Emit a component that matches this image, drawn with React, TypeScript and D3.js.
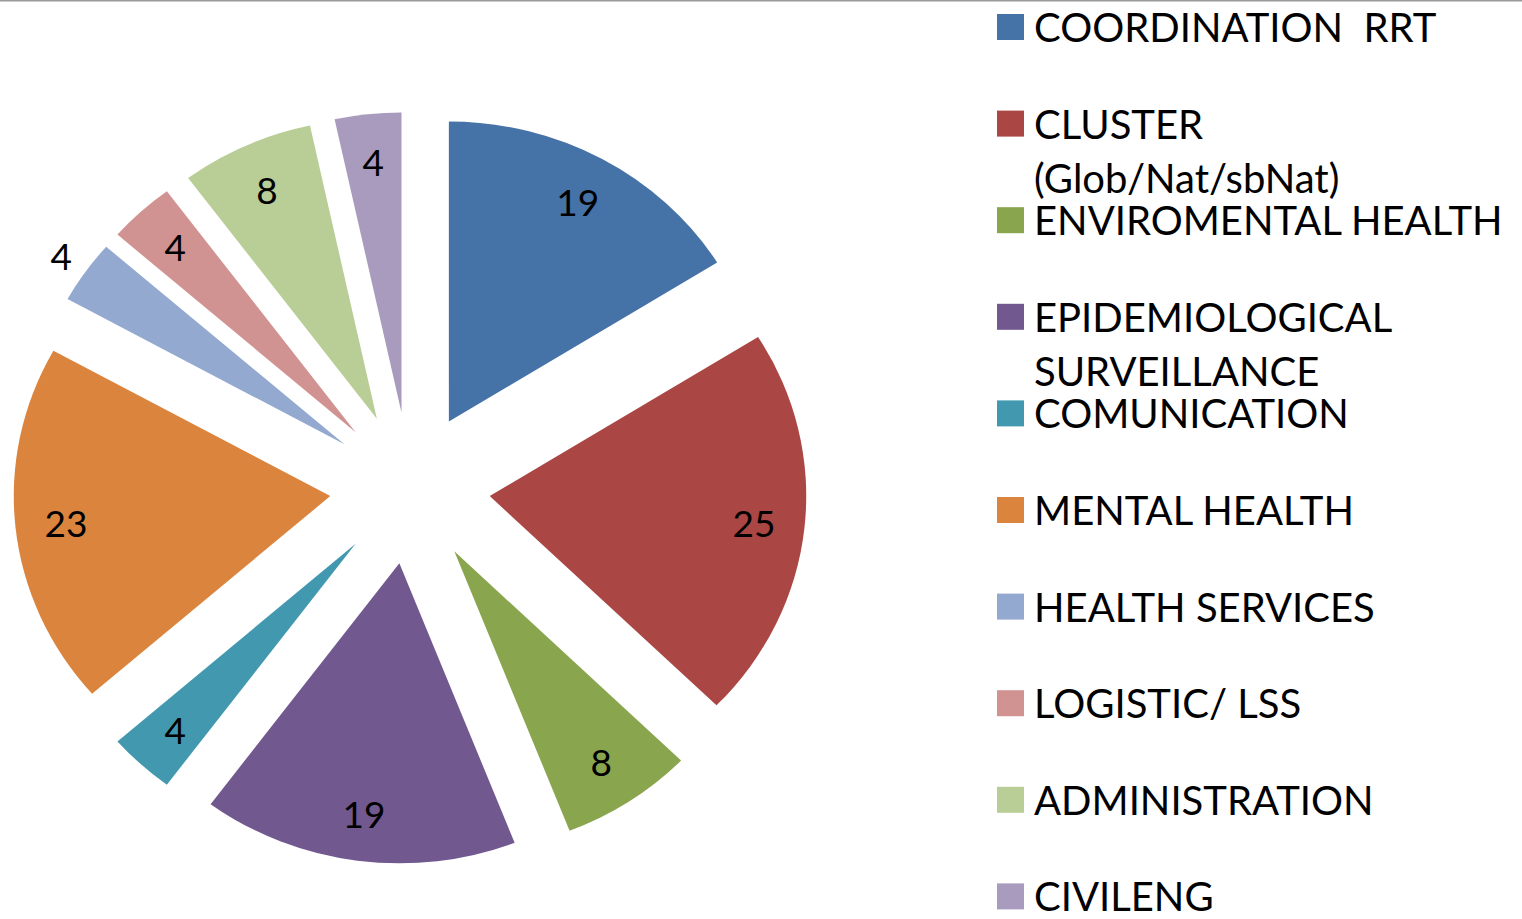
import React from "react";
import * as d3 from "d3";

const categories = [
  "COORDINATION  RRT",
  "CLUSTER (Glob/Nat/sbNat)",
  "ENVIROMENTAL HEALTH",
  "EPIDEMIOLOGICAL SURVEILLANCE",
  "COMUNICATION",
  "MENTAL HEALTH",
  "HEALTH SERVICES",
  "LOGISTIC/ LSS",
  "ADMINISTRATION",
  "CIVILENG",
];
const legendLines = [
  ["COORDINATION  RRT"],
  ["CLUSTER", "(Glob/Nat/sbNat)"],
  ["ENVIROMENTAL HEALTH"],
  ["EPIDEMIOLOGICAL", "SURVEILLANCE"],
  ["COMUNICATION"],
  ["MENTAL HEALTH"],
  ["HEALTH SERVICES"],
  ["LOGISTIC/ LSS"],
  ["ADMINISTRATION"],
  ["CIVILENG"],
];
const values = [19, 25, 8, 19, 4, 23, 4, 4, 8, 4];
const colors = [
  "#4572A7", "#AA4643", "#89A54E", "#71588F", "#4198AF",
  "#DB843D", "#93A9CF", "#D19392", "#B9CD96", "#A99BBD",
];

const W = 1522;
const H = 919;
const cx = 410;
const cy = 488;
const sx = 1.055; // pie is slightly stretched horizontally
const radius = 300;
const explode = 76;
const labelR = 252;
const outsideLabelR = 328;

export default function App() {
  const pie = d3.pie<number>().sort(null).value((d) => d)(values);
  const arc = d3.arc<d3.PieArcDatum<number>>().innerRadius(0).outerRadius(radius);

  const font = "Lato, 'Open Sans', sans-serif";

  return (
    <svg width={W} height={H} style={{ display: "block", position: "absolute", left: 0, top: 0, background: "#fff" }}>
      <line x1={0} x2={W} y1={0.5} y2={0.5} stroke="#999" strokeWidth={2} />
      <g transform={`translate(${cx},${cy}) scale(${sx},1)`}>
        {pie.map((p, i) => {
          const mid = (p.startAngle + p.endAngle) / 2;
          const ox = Math.sin(mid) * explode;
          const oy = -Math.cos(mid) * explode;
          return (
            <path key={i} d={arc(p) ?? ""} fill={colors[i]} transform={`translate(${ox},${oy})`} />
          );
        })}
      </g>
      {pie.map((p, i) => {
        const mid = (p.startAngle + p.endAngle) / 2;
        // thin slice at the left gets its label pushed outside
        const lr = categories[i] === "HEALTH SERVICES" ? outsideLabelR : labelR;
        const x = cx + sx * Math.sin(mid) * (explode + lr);
        const y = cy - Math.cos(mid) * (explode + lr);
        return (
          <text key={i} x={x} y={y} textAnchor="middle" dominantBaseline="central"
            fontFamily={font} fontSize={37} fill="#000">
            {values[i]}
          </text>
        );
      })}
      <g>
        {legendLines.map((lines, i) => {
          const yc = 27 + i * 96.6;
          return (
            <g key={i}>
              <rect x={997} y={yc - 13} width={27} height={26} fill={colors[i]} />
              {lines.map((t, j) => (
                <text key={j} x={1034} y={yc + 15 + j * 54} fontFamily={font} fontSize={40} fill="#000" style={{ whiteSpace: "pre" }}>
                  {t}
                </text>
              ))}
            </g>
          );
        })}
      </g>
    </svg>
  );
}
